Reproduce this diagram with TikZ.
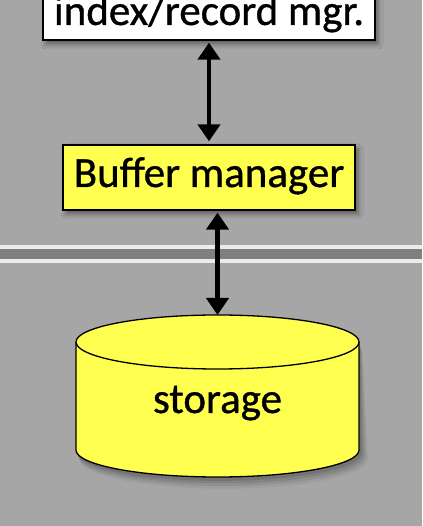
\documentclass[tikz,border=0pt]{standalone}
\usepackage{fontspec}
\setmainfont{Carlito}[BoldFont=Carlito, BoldFeatures={FakeBold=0.9}]
\usetikzlibrary{arrows.meta,shadows.blur}
\definecolor{bg}{HTML}{A6A6A6}
\definecolor{band}{HTML}{7F7F7F}
\definecolor{lite}{HTML}{EBEBEB}
\definecolor{yel}{HTML}{FFFF4F}
\tikzset{
  labelfont/.style={font=\fontsize{43}{47}\selectfont\bfseries},
  boxstyle/.style={draw=black, line width=1.3pt, inner sep=0pt, labelfont,
    blur shadow={shadow xshift=3pt, shadow yshift=-4pt, shadow blur radius=5pt, shadow opacity=45}},
  bigarrow/.style={line width=4.5pt, {Triangle[length=17pt,width=22pt]}-{Triangle[length=17pt,width=22pt]}},
}
\begin{document}
\begin{tikzpicture}[x=1pt,y=1pt]
\useasboundingbox (0,0) rectangle (422,526);
\fill[bg] (0,0) rectangle (422,526);
% separator
\fill[lite] (0,263) rectangle (422,281);
\fill[band] (0,267) rectangle (422,277);
% top box
\node[boxstyle, fill=white, anchor=base, minimum width=332pt, text height=55pt, text depth=15pt] (idx) at (209,501) {index/record mgr.};
% buffer
\node[boxstyle, fill=yel, anchor=base, minimum width=292pt, text height=42pt, text depth=23pt] (buf) at (209,339) {Buffer manager};
% cylinder shadow
\foreach \o/\a in {9/0.05,7/0.07,5/0.09,3/0.11}{
  \fill[black, opacity=\a] (76+\o*0.4,184-\o) -- (76+\o*0.4,76-\o) arc[start angle=180,end angle=360,x radius=141.5+\o*0.3,y radius=27+\o*0.3] -- (359+\o*0.4,184-\o) -- cycle;
}
% cylinder
\fill[yel, draw=black, line width=1.3pt] (76,184) -- (76,76) arc[start angle=180,end angle=360,x radius=141.5,y radius=27] -- (359,184);
\fill[yel, draw=black, line width=1.3pt] (217.5,184) ellipse[x radius=141.5, y radius=27];
\coordinate (cyltop) at (217.5,211);
\node[labelfont, anchor=base, inner sep=0pt] (stor) at (217.5,113) {storage};
% arrows
\draw[bigarrow] ([yshift=-2pt]idx.south) -- ([yshift=3pt]buf.north);
\draw[bigarrow] ([yshift=-2pt]buf.south -| cyltop) -- (cyltop);
\end{tikzpicture}
\end{document}
